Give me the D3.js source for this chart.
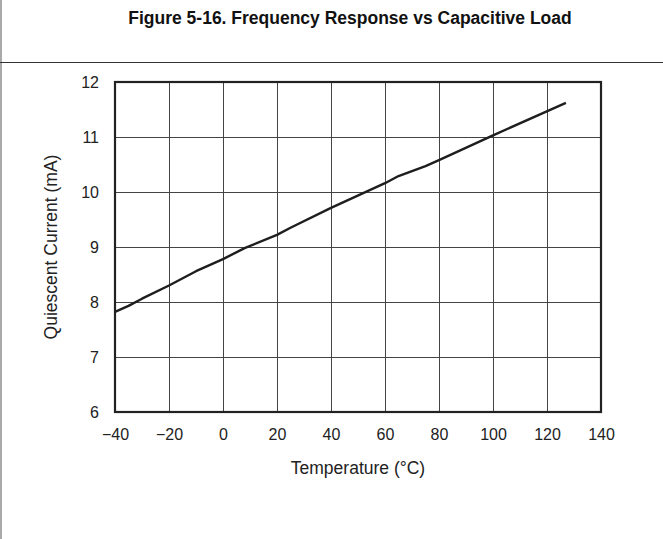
<!DOCTYPE html>
<html><head><meta charset="utf-8">
<script src="https://cdn.jsdelivr.net/npm/d3@7/dist/d3.min.js"></script>
<style>body{margin:0;background:#fff;} svg{display:block;font-family:"Liberation Sans",Arial,sans-serif;}</style>
</head><body>
<script>
const titleText = "Figure 5-16. Frequency Response vs Capacitive Load";
const xLabel = "Temperature (°C)";
const yLabel = "Quiescent Current (mA)";
const xTicks = [-40, -20, 0, 20, 40, 60, 80, 100, 120, 140];
const yTicks = [6, 7, 8, 9, 10, 11, 12];
const temperature = [-40, -35, -30, -20, -10, 0, 8, 20, 25, 40, 60, 65, 75, 80, 100, 127];
const current = [7.82, 7.93, 8.06, 8.30, 8.56, 8.78, 8.98, 9.22, 9.35, 9.71, 10.16, 10.29, 10.47, 10.58, 11.03, 11.62];

const W = 663, H = 539;
const m = {left:115, right:601, top:82, bottom:412};
const svg = d3.select("body").append("svg").attr("width", W).attr("height", H);

// frame
svg.append("line").attr("x1",1).attr("x2",1).attr("y1",0).attr("y2",H).attr("stroke","#555").attr("stroke-width",1);
svg.append("line").attr("x1",0).attr("x2",W).attr("y1",62.5).attr("y2",62.5).attr("stroke","#333").attr("stroke-width",1.2);
svg.append("text").attr("x",350).attr("y",24).attr("text-anchor","middle")
  .attr("font-size",17.5).attr("font-weight","bold").attr("fill","#111").text(titleText);

const x = d3.scaleLinear().domain([-40,140]).range([m.left,m.right]);
const y = d3.scaleLinear().domain([6,12]).range([m.bottom,m.top]);

// grid
const g = svg.append("g");
g.selectAll(".vg").data(xTicks.slice(1,-1)).join("line")
  .attr("x1",d=>Math.round(x(d))+0.5).attr("x2",d=>Math.round(x(d))+0.5)
  .attr("y1",m.top).attr("y2",m.bottom).attr("stroke","#444").attr("stroke-width",1);
g.selectAll(".hg").data(yTicks.slice(1,-1)).join("line")
  .attr("y1",d=>Math.round(y(d))+0.5).attr("y2",d=>Math.round(y(d))+0.5)
  .attr("x1",m.left).attr("x2",m.right).attr("stroke","#444").attr("stroke-width",1);

// axes (labels only)
const xAxis = d3.axisBottom(x).tickValues(xTicks).tickSize(0).tickPadding(17)
  .tickFormat(d => d < 0 ? "\u2212" + Math.abs(d) : String(d));
const xa = svg.append("g").attr("transform",`translate(0,${m.bottom})`).call(xAxis);
xa.select(".domain").remove();
xa.selectAll("text").attr("font-size",16).attr("fill","#222").attr("font-family","Liberation Sans, Arial, sans-serif");

const yAxis = d3.axisLeft(y).tickValues(yTicks).tickSize(0).tickPadding(16).tickFormat(d3.format("d"));
const ya = svg.append("g").attr("transform",`translate(${m.left},0)`).call(yAxis);
ya.select(".domain").remove();
ya.selectAll("text").attr("font-size",16).attr("fill","#222").attr("font-family","Liberation Sans, Arial, sans-serif");

// border
svg.append("rect").attr("x",m.left).attr("y",m.top).attr("width",m.right-m.left).attr("height",m.bottom-m.top)
  .attr("fill","none").attr("stroke","#222").attr("stroke-width",2.2);

// data line
const line = d3.line().x((d,i)=>x(temperature[i])).y((d,i)=>y(current[i]));
svg.append("path").datum(current).attr("d",line).attr("fill","none")
  .attr("stroke","#1e1e1e").attr("stroke-width",2.4).attr("stroke-linejoin","round");

// axis titles
svg.append("text").attr("x",(m.left+m.right)/2).attr("y",474).attr("text-anchor","middle")
  .attr("font-size",17.5).attr("fill","#222").text(xLabel);
svg.append("text").attr("transform",`translate(57,${(m.top+m.bottom)/2}) rotate(-90)`)
  .attr("text-anchor","middle").attr("font-size",17.5).attr("fill","#222").text(yLabel);
</script>
</body></html>
